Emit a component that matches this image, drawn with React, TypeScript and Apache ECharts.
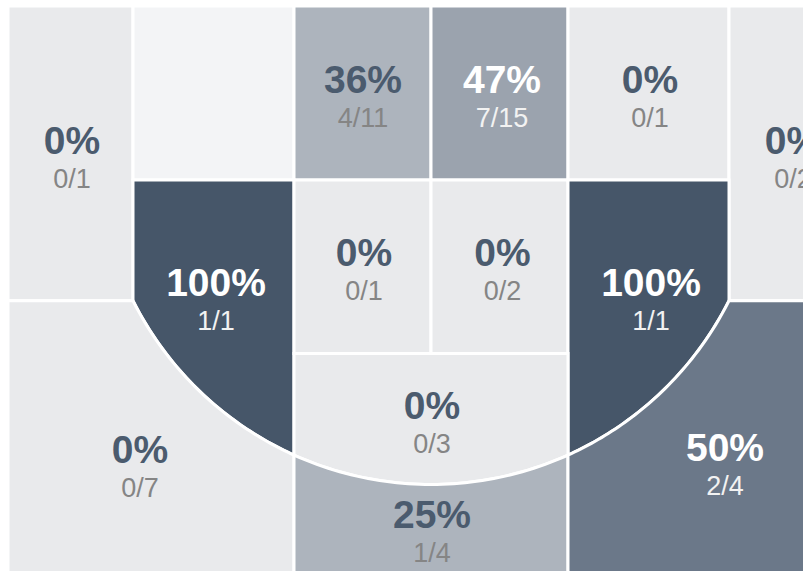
import React, { useEffect, useRef } from "react";
import * as echarts from "echarts";

// ---- data ----
const zoneNames = [
  "Left Corner 3",
  "Left Baseline Mid-Range",
  "Restricted Area Left",
  "Restricted Area Right",
  "Right Baseline Mid-Range",
  "Right Corner 3",
  "Left Elbow",
  "Paint Left",
  "Paint Right",
  "Right Elbow",
  "Left Wing 3",
  "Top of Key Mid-Range",
  "Top of Key 3",
  "Right Wing 3",
];
const makes = [0, 0, 4, 7, 0, 0, 1, 0, 0, 1, 0, 0, 1, 2];
const attempts = [1, 0, 11, 15, 1, 2, 1, 1, 2, 1, 7, 3, 4, 4];

// ---- styles ----
const zoneColors = [
  "#e9eaec",
  "#f3f4f6",
  "#adb4bd",
  "#9ba3ae",
  "#e9eaec",
  "#e9eaec",
  "#465669",
  "#e9eaec",
  "#e9eaec",
  "#465669",
  "#e9eaec",
  "#e9eaec",
  "#adb4bd",
  "#6b7889",
];
const lightText = [false, false, false, true, false, false, true, false, false, true, false, false, false, true];

// ---- court layout (court units, x from centre, y from baseline) ----
const SIDE = 423;
const CORNER_X = 298;
const LANE_X = 137;
const ROW_Y = 174;
const CORNER_Y = 294.7;
const FT_Y = 347.5;
const ARC_CY = 145;
const ARC_R = 333.5;
const FAR_Y = 700;
const FRACTION_GAP = 38.5;

const labelPos: [number, number][] = [
  [-359, 134],
  [-215, 80],
  [-68, 73],
  [71, 73],
  [219, 73],
  [362, 134],
  [-215, 276],
  [-67, 246.5],
  [71.5, 246.5],
  [220, 276],
  [-291, 443],
  [1, 399.5],
  [1, 508],
  [294, 441],
];

const arcY = (x: number) => ARC_CY + Math.sqrt(ARC_R * ARC_R - x * x);
const arc = (x0: number, x1: number, n = 48): number[][] => {
  const pts: number[][] = [];
  for (let i = 0; i <= n; i++) {
    const x = x0 + ((x1 - x0) * i) / n;
    pts.push([x, arcY(x)]);
  }
  return pts;
};
const mirror = (pts: number[][]) => pts.map(([x, y]) => [-x, y]);

const leftCorner = [[-SIDE, 0], [-CORNER_X, 0], [-CORNER_X, CORNER_Y], [-SIDE, CORNER_Y]];
const leftBaseline = [[-CORNER_X, 0], [-LANE_X, 0], [-LANE_X, ROW_Y], [-CORNER_X, ROW_Y]];
const restrictedLeft = [[-LANE_X, 0], [0, 0], [0, ROW_Y], [-LANE_X, ROW_Y]];
const leftElbow = [[-CORNER_X, ROW_Y], [-LANE_X, ROW_Y], ...arc(-LANE_X, -CORNER_X)];
const paintLeft = [[-LANE_X, ROW_Y], [0, ROW_Y], [0, FT_Y], [-LANE_X, FT_Y]];
const leftWing = [[-SIDE, CORNER_Y], ...arc(-CORNER_X, -LANE_X), [-LANE_X, FAR_Y], [-SIDE, FAR_Y]];
const topKeyMid = [[-LANE_X, FT_Y], [LANE_X, FT_Y], ...arc(LANE_X, -LANE_X)];
const topKey3 = [...arc(-LANE_X, LANE_X), [LANE_X, FAR_Y], [-LANE_X, FAR_Y]];

const zoneShapes: number[][][] = [
  leftCorner,
  leftBaseline,
  restrictedLeft,
  mirror(restrictedLeft),
  mirror(leftBaseline),
  mirror(leftCorner),
  leftElbow,
  paintLeft,
  mirror(paintLeft),
  mirror(leftElbow),
  leftWing,
  topKeyMid,
  topKey3,
  mirror(leftWing),
];

const FONT = 'Arial, "Liberation Sans", Helvetica, sans-serif';

export default function App() {
  const ref = useRef<HTMLDivElement>(null);
  useEffect(() => {
    if (!ref.current) return;
    const chart = echarts.init(ref.current, undefined, { renderer: "svg" });
    chart.setOption({
      animation: false,
      grid: { left: 0, right: 0, top: 0, bottom: 0 },
      xAxis: { type: "value", min: -423, max: 372, show: false },
      yAxis: { type: "value", min: 1, max: 565, inverse: true, show: false },
      series: [
        {
          type: "custom",
          coordinateSystem: "cartesian2d",
          clip: false,
          data: zoneNames.map((name, i) => ({ name, value: [i, makes[i], attempts[i]] })),
          renderItem: (params: any, api: any) => {
            const i = api.value(0);
            const m = api.value(1);
            const a = api.value(2);
            const pts = zoneShapes[i].map((p) => api.coord(p));
            const children: any[] = [
              {
                type: "polygon",
                shape: { points: pts },
                style: { fill: zoneColors[i], stroke: "#ffffff", lineWidth: 3 },
              },
            ];
            if (a > 0) {
              const pct = Math.round((m / a) * 100);
              const [lx, ly] = labelPos[i];
              const p1 = api.coord([lx, ly]);
              const p2 = api.coord([lx, ly + FRACTION_GAP]);
              const light = lightText[i];
              children.push({
                type: "text",
                x: p1[0],
                y: p1[1],
                style: {
                  text: pct + "%",
                  fill: light ? "#ffffff" : "#4b5b6e",
                  fontSize: 39,
                  fontWeight: "bold",
                  fontFamily: FONT,
                  align: "center",
                  verticalAlign: "middle",
                },
              });
              children.push({
                type: "text",
                x: p2[0],
                y: p2[1],
                style: {
                  text: m + "/" + a,
                  fill: light ? "#f2f2f2" : "#858585",
                  fontSize: 27,
                  fontFamily: FONT,
                  align: "center",
                  verticalAlign: "middle",
                },
              });
            }
            return { type: "group", children };
          },
        },
      ],
    });
    return () => chart.dispose();
  }, []);
  return (
    <div
      ref={ref}
      style={{ position: "absolute", left: 8, top: 7, width: 795, height: 564, overflow: "hidden" }}
    />
  );
}
